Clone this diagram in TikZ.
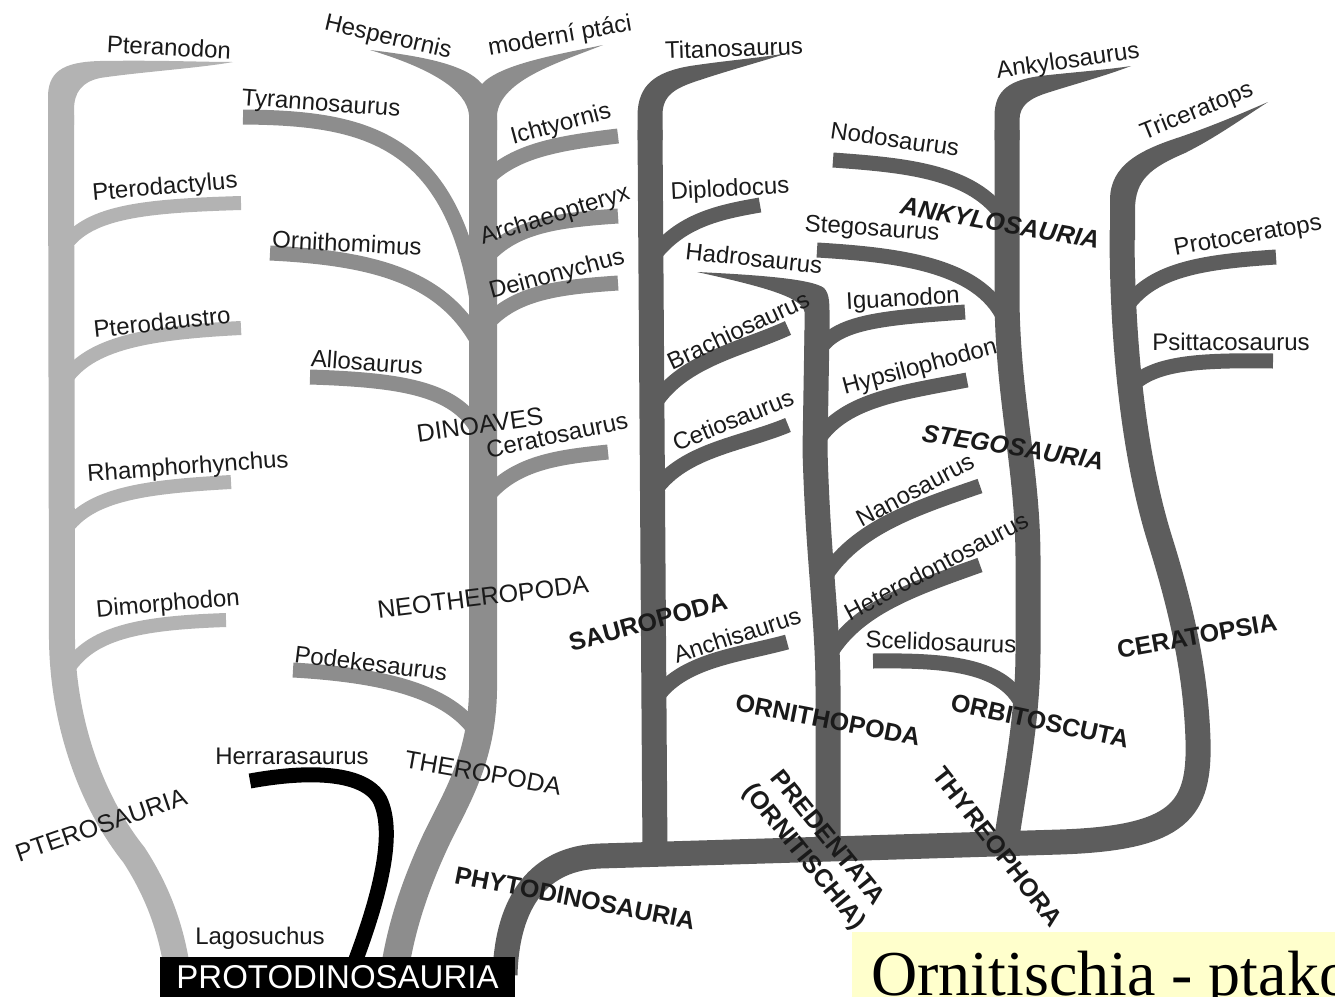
\documentclass[tikz,border=0pt]{standalone}
\usepackage{fontspec}
\setmainfont{Liberation Sans}
\newfontfamily\notefont{Liberation Serif}

\definecolor{pterogray}{HTML}{B3B3B3}
\definecolor{therogray}{HTML}{8D8D8D}
\definecolor{phytogray}{HTML}{5D5D5D}
\definecolor{labelink}{HTML}{1A1A1A}
\definecolor{noteyellow}{HTML}{FFFFCC}

\tikzset{
  pterotrunk/.style={draw=pterogray, line width=26pt},
  pterotwig/.style={draw=pterogray, line width=14pt},
  therotrunk/.style={draw=therogray, line width=28pt},
  therotwig/.style={draw=therogray, line width=15pt},
  phytotrunk/.style={draw=phytogray, line width=25pt},
  phytotwig/.style={draw=phytogray, line width=15pt},
  taxon/.style={text=labelink, inner sep=0pt, font=\fontsize{24}{28}\selectfont},
  group/.style={taxon, font=\fontsize{25}{30}\selectfont},
  clade/.style={taxon, font=\bfseries\fontsize{25}{30}\selectfont},
  slclade/.style={taxon, font=\bfseries\itshape\fontsize{25}{30}\selectfont},
}

\begin{document}
\begin{tikzpicture}[x=1pt, y=-1pt]
\useasboundingbox (0,0) rectangle (1335,996);

% pterosaurs
\fill[pterogray] (48,125) -- (48,100) .. controls (47,72) and (62,62) .. (100,61)
  .. controls (160,60) and (200,62) .. (233,62) .. controls (200,68) and (140,72) .. (100,78)
  .. controls (82,82) and (74,92) .. (74,110) -- (74,125) -- cycle;
\draw[pterotrunk] (61,115) -- (62,640) .. controls (63,720) and (90,800) .. (134,855)
  .. controls (158,892) and (172,930) .. (178,975);
\draw[pterotwig] (62,250) .. controls (85,212) and (140,206) .. (241,203);  % Pterodactylus
\draw[pterotwig] (62,385) .. controls (85,345) and (140,333) .. (241,328);  % Pterodaustro
\draw[pterotwig] (62,535) .. controls (85,495) and (140,487) .. (231,482);  % Rhamphorhynchus
\draw[pterotwig] (66,672) .. controls (90,632) and (140,623) .. (226,620);  % Dimorphodon

% theropods
\fill[therogray] (469,130) -- (469,115) .. controls (467,90) and (430,68) .. (370,50)
  .. controls (420,56) and (466,64) .. (482,84) .. controls (500,64) and (560,54) .. (603,45)
  .. controls (560,62) and (500,80) .. (497,115) -- (497,130) -- cycle;
\draw[therotrunk] (483,120) -- (483,690) .. controls (482,760) and (455,800) .. (436,840)
  .. controls (415,885) and (400,930) .. (394,975);
\draw[therotwig] (243,117) .. controls (360,118) and (450,135) .. (477,300);  % Tyrannosaurus
\draw[therotwig] (270,253) .. controls (370,258) and (440,275) .. (477,340);  % Ornithomimus
\draw[therotwig] (310,377) .. controls (400,380) and (455,388) .. (478,430);  % Allosaurus
\draw[therotwig] (293,670) .. controls (380,675) and (450,690) .. (478,735);  % Podekesaurus
\draw[therotwig] (486,180) .. controls (515,150) and (560,143) .. (618,136);  % Ichtyornis
\draw[therotwig] (486,258) .. controls (515,225) and (560,220) .. (618,216);  % Archaeopteryx
\draw[therotwig] (486,325) .. controls (515,292) and (560,287) .. (618,283);  % Deinonychus
\draw[therotwig] (486,498) .. controls (515,462) and (560,457) .. (608,452);  % Ceratosaurus

% Herrerasaurus
\draw[black, line width=15pt] (250,781) .. controls (310,770) and (365,772) .. (380,800)
  .. controls (394,830) and (385,885) .. (350,975);

% phytodinosaurs: base bar and Ceratopsia
\draw[phytotrunk] (505,975) .. controls (507,900) and (540,858) .. (600,856) -- (1060,842)
  .. controls (1180,838) and (1200,810) .. (1198,740) .. controls (1196,680) and (1185,620) .. (1160,540)
  .. controls (1135,460) and (1122,350) .. (1122,230);
\fill[phytogray] (1110,240) -- (1110,200) .. controls (1110,165) and (1140,150) .. (1180,137)
  .. controls (1215,125) and (1245,112) .. (1268,102) .. controls (1240,120) and (1215,138) .. (1185,153)
  .. controls (1150,168) and (1135,180) .. (1135,210) -- (1135,240) -- cycle;
\draw[phytotwig] (1124,310) .. controls (1150,270) and (1200,262) .. (1276,257);  % Protoceratops
\draw[phytotwig] (1128,390) .. controls (1150,362) and (1200,360) .. (1273,361);  % Psittacosaurus

% sauropods
\fill[phytogray] (637.5,140) -- (637.5,115) .. controls (638,85) and (655,72) .. (690,66)
  .. controls (730,60) and (760,58) .. (788,53) .. controls (760,62) and (730,70) .. (700,80)
  .. controls (675,88) and (662.5,95) .. (662.5,115) -- (662.5,140) -- cycle;
\draw[phytotrunk] (650,130) -- (655,855);
\draw[phytotwig] (652,258) .. controls (680,220) and (720,212) .. (760,205);  % Diplodocus
\draw[phytotwig] (652,408) .. controls (680,360) and (740,350) .. (788,328);  % Brachiosaurus
\draw[phytotwig] (652,495) .. controls (680,450) and (740,445) .. (788,425);  % Cetiosaurus
\draw[phytotwig] (655,700) .. controls (680,660) and (740,655) .. (787,642);  % Anchisaurus

% ornithopods
\fill[phytogray] (804.5,345) -- (804.5,312) .. controls (802,298) and (770,288) .. (697,272)
  .. controls (760,275) and (812,279) .. (824,288) .. controls (830,294) and (829.5,305) .. (829.5,320)
  -- (829.5,345) -- cycle;
\draw[phytotrunk] (817,330) -- (815,450) .. controls (818,560) and (828,620) .. (828,690) -- (828,850);
\draw[phytotwig] (818,352) .. controls (835,322) and (880,318) .. (965,312);  % Iguanodon
\draw[phytotwig] (815,445) .. controls (840,400) and (900,393) .. (967,380);  % Hypsilophodon
\draw[phytotwig] (820,585) .. controls (850,530) and (910,510) .. (980,486);  % Nanosaurus
\draw[phytotwig] (824,665) .. controls (850,610) and (910,590) .. (980,565);  % Heterodontosaurus

% thyreophorans
\fill[phytogray] (994.5,140) -- (994.5,115) .. controls (995,90) and (1010,80) .. (1040,76)
  .. controls (1075,72) and (1105,70) .. (1131,66) .. controls (1105,76) and (1075,84) .. (1050,92)
  .. controls (1030,98) and (1019.5,105) .. (1019.5,120) -- (1019.5,140) -- cycle;
\draw[phytotrunk] (1007,130) -- (1007,300) .. controls (1008,400) and (1028,470) .. (1028,560)
  -- (1028,650) .. controls (1028,720) and (1015,780) .. (1005,850);
\draw[phytotwig] (833,160) .. controls (900,165) and (975,170) .. (1005,220);   % Nodosaurus
\draw[phytotwig] (817,250) .. controls (900,255) and (985,265) .. (1007,325);   % Stegosaurus
\draw[phytotwig] (873,661) .. controls (950,660) and (1012,665) .. (1026,715);  % Scelidosaurus

% taxa
\node[taxon, rotate=-3] (pteranodon) at (169,47) {Pteranodon};
\node[taxon, rotate=5] (pterodactylus) at (165,188) {Pterodactylus};
\node[taxon, rotate=6] (pterodaustro) at (162,322) {Pterodaustro};
\node[taxon, rotate=4] (rhamphorhynchus) at (188,468) {Rhamphorhynchus};
\node[taxon, rotate=5] (dimorphodon) at (168,605) {Dimorphodon};
\node[taxon, rotate=-4] (tyrannosaurus) at (321,105) {Tyrannosaurus};
\node[taxon, rotate=-3] (ornithomimus) at (347,243) {Ornithomimus};
\node[taxon, rotate=-4] (allosaurus) at (367,362) {Allosaurus};
\node[taxon, rotate=-7] (podekesaurus) at (371,663) {Podekesaurus};
\node[taxon] (herrarasaurus) at (292,756) {Herrarasaurus};
\node[taxon] (lagosuchus) at (260,938) {Lagosuchus};
\node[taxon, rotate=-13] (hesperornis) at (388,38) {Hesperornis};
\node[taxon, rotate=10] (ptaci) at (560,37) {moderní ptáci};
\node[taxon, rotate=15] (ichtyornis) at (561,125) {Ichtyornis};
\node[taxon, rotate=17] (archaeopteryx) at (555,216) {Archaeopteryx};
\node[taxon, rotate=15] (deinonychus) at (557,275) {Deinonychus};
\node[taxon, rotate=12] (ceratosaurus) at (557,435) {Ceratosaurus};
\node[taxon, rotate=2] (titanosaurus) at (734,48) {Titanosaurus};
\node[taxon, rotate=3] (diplodocus) at (730,190) {Diplodocus};
\node[taxon, rotate=-6] (hadrosaurus) at (754,258) {Hadrosaurus};
\node[taxon, rotate=25] (brachiosaurus) at (738,330) {Brachiosaurus};
\node[taxon, rotate=22] (cetiosaurus) at (733,420) {Cetiosaurus};
\node[taxon, rotate=18] (anchisaurus) at (737,635) {Anchisaurus};
\node[taxon, rotate=-8] (nodosaurus) at (895,139) {Nodosaurus};
\node[taxon, rotate=-4] (stegosaurus) at (872,230) {Stegosaurus};
\node[taxon, rotate=3] (iguanodon) at (903,300) {Iguanodon};
\node[taxon, rotate=15] (hypsilophodon) at (920,368) {Hypsilophodon};
\node[taxon, rotate=28] (nanosaurus) at (915,490) {Nanosaurus};
\node[taxon, rotate=28] (heterodontosaurus) at (936,566) {Heterodontosaurus};
\node[taxon, rotate=-2] (scelidosaurus) at (941,642) {Scelidosaurus};
\node[taxon, rotate=8] (ankylosaurus) at (1068,62) {Ankylosaurus};
\node[taxon, rotate=22] (triceratops) at (1197,112) {Triceratops};
\node[taxon, rotate=10] (protoceratops) at (1248,237) {Protoceratops};
\node[taxon] (psittacosaurus) at (1231,342) {Psittacosaurus};

% groups
\node[group, rotate=19] (pterosauria) at (101,825) {PTEROSAURIA};
\node[group, rotate=8] (dinoaves) at (480,425) {DINOAVES};
\node[group, rotate=7] (neotheropoda) at (483,597) {NEOTHEROPODA};
\node[group, rotate=-10] (theropoda) at (483,773) {THEROPODA};
\node[clade, rotate=15] (sauropoda) at (648,622) {SAUROPODA};
\node[clade, rotate=-11] (phytodinosauria) at (575,898) {PHYTODINOSAURIA};
\node[clade, rotate=-11] (ornithopoda) at (828,720) {ORNITHOPODA};
\node[clade, rotate=-51, align=center] (predentata) at (815,848) {PREDENTATA\\(ORNITISCHIA)};
\node[clade, rotate=-12] (orbitoscuta) at (1040,721) {ORBITOSCUTA};
\node[clade, rotate=-52] (thyreophora) at (998,847) {THYREOPHORA};
\node[slclade, rotate=-10] (ankylosauria) at (1000,223) {ANKYLOSAURIA};
\node[slclade, rotate=-9] (stegosauria) at (1013,447) {STEGOSAURIA};
\node[clade, rotate=10] (ceratopsia) at (1197,636) {CERATOPSIA};

% root
\node[fill=black, text=white, inner sep=0pt, minimum width=355pt, minimum height=40pt,
  font=\fontsize{33}{36}\selectfont] (protodinosauria) at (337.5,977) {PROTODINOSAURIA};

% slide caption
\begin{scope}
  \clip (0,0) rectangle (1335,996);
  \fill[noteyellow] (852,932) rectangle (1340,1000);
  \node[anchor=base west, inner sep=0pt, font=\notefont\fontsize{64}{70}\selectfont] (caption)
    at (871,995) {Ornitischia - ptako};
\end{scope}
\end{tikzpicture}
\end{document}
